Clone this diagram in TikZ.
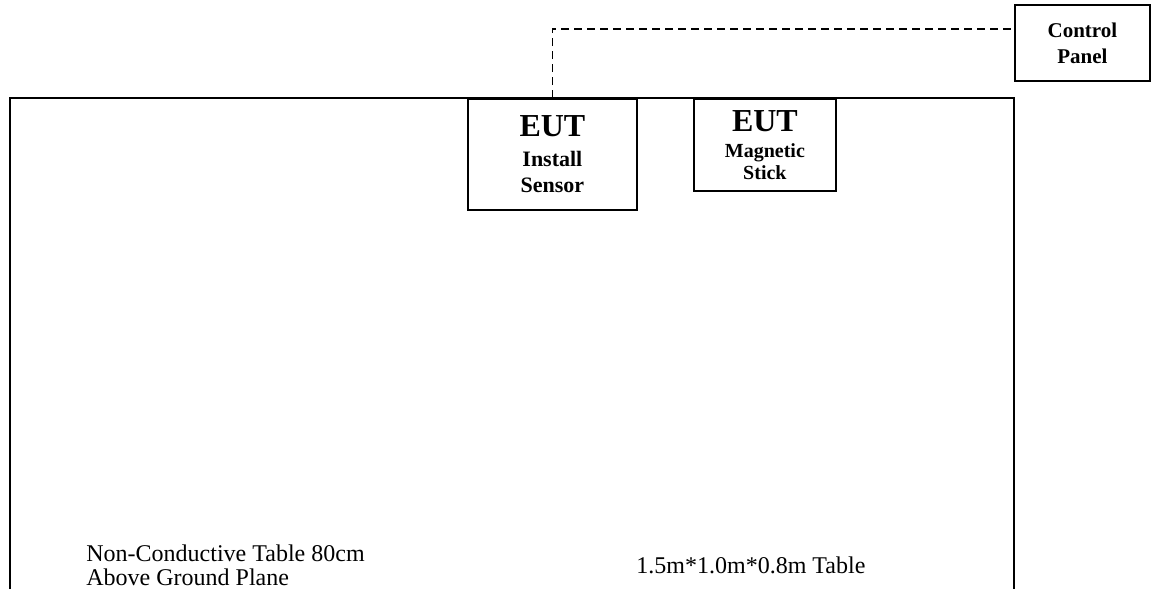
\documentclass[tikz,border=0pt]{standalone}
\usepackage{fontspec}
\setmainfont{Liberation Serif}
\usetikzlibrary{positioning}

\begin{document}
\begin{tikzpicture}[x=0.5pt, y=-0.5pt,
    unit/.style={draw, line width=0.9pt, align=center, inner sep=0pt,
        font=\fontsize{11}{13}\selectfont\bfseries},
    cable/.style={dash pattern=on 4pt off 2.5pt, line width=0.9pt},
    label/.style={align=left, inner sep=0pt, font=\fontsize{12}{12}\selectfont}]
    \useasboundingbox (0,0) rectangle (1154,589);

    % the table, cut off at the bottom
    \draw[line width=0.9pt] (10,589) |- (1014,98) -- (1014,589);

    % units on the table
    \node[unit, minimum width=84.5pt, minimum height=55.5pt, anchor=north west] (sensor) at (467,98)
        {{\fontsize{16}{16}\selectfont EUT}\\[2pt]Install\\Sensor};
    \node[unit, minimum width=71pt, minimum height=46pt, anchor=north west,
        font=\fontsize{10}{11}\selectfont\bfseries] (stick) at (693,98)
        {{\fontsize{16}{16}\selectfont EUT}\\[2pt]Magnetic\\Stick};
    \node[unit, minimum width=67.5pt, minimum height=38pt, anchor=north west,
        font=\fontsize{10.5}{13}\selectfont\bfseries] (panel) at (1014,4)
        {Control\\Panel};

    % cable to the control panel
    \draw[cable] (sensor.north) |- ([yshift=7pt]panel.west);

    \node[label, anchor=west] (note) at (86,565) {Non-Conductive Table 80cm\\Above Ground Plane};
    \node[label, anchor=base west] (size) at (636,573) {1.5m*1.0m*0.8m Table};
\end{tikzpicture}
\end{document}
